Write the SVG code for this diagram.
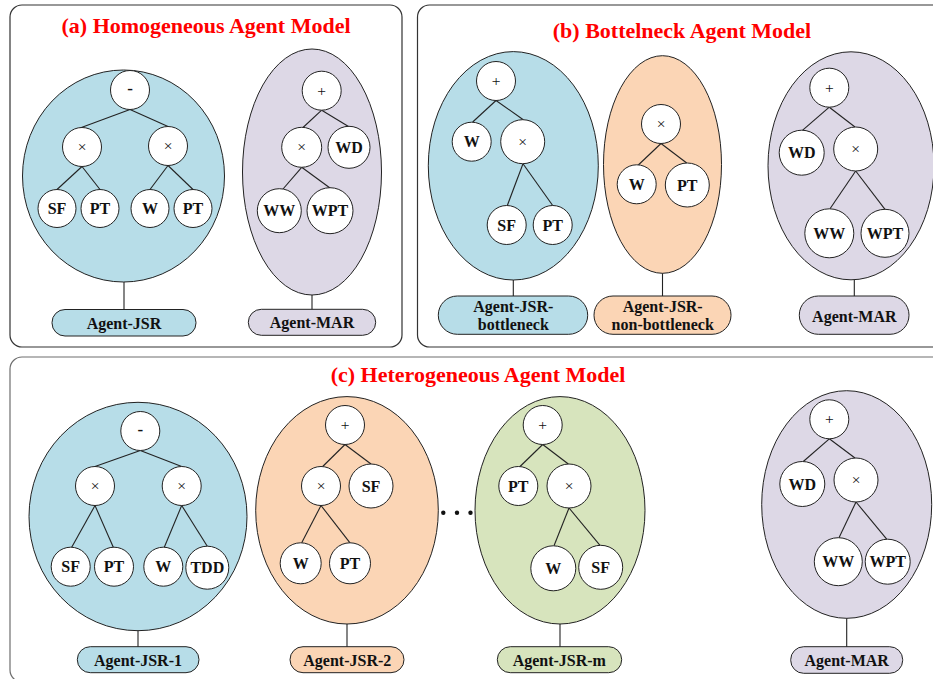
<svg xmlns="http://www.w3.org/2000/svg" width="933" height="679" viewBox="0 0 933 679">
  <style>
    .panel { fill: #ffffff; stroke: #333333; stroke-width: 1.2; }
    .panel-c { stroke: #6e6e6e; }
    .agent { stroke: #222222; stroke-width: 1; }
    .blue { fill: #b7dde8; }
    .orange { fill: #fbd5b5; }
    .green { fill: #d7e4bd; }
    .purple { fill: #ddd8e6; }
    .node circle { fill: #ffffff; stroke: #222222; stroke-width: 1; }
    .edges line { stroke: #222222; stroke-width: 1.1; }
    .title { font-family: "Liberation Serif", "Times New Roman", serif; font-weight: bold; font-size: 22px; fill: #ff0000; text-anchor: middle; }
    .lab { font-family: "Liberation Serif", "Times New Roman", serif; font-weight: bold; font-size: 16px; fill: #111111; text-anchor: middle; }
    .op { font-family: "Liberation Serif", "Times New Roman", serif; font-size: 15.5px; fill: #111111; text-anchor: middle; }
    .minus { font-family: "Liberation Serif", "Times New Roman", serif; font-weight: bold; font-size: 17px; fill: #111111; text-anchor: middle; }
  </style>

  <!-- panels -->
  <g id="panels">
    <rect class="panel" x="10" y="5" width="392" height="342" rx="12"/>
    <rect class="panel" x="417.5" y="5" width="530" height="342" rx="12"/>
    <rect class="panel panel-c" x="10" y="357" width="940" height="325" rx="12"/>
    <text class="title" x="206" y="33">(a) Homogeneous Agent Model</text>
    <text class="title" x="682" y="37.5">(b) Bottelneck Agent Model</text>
    <text class="title" x="478" y="382">(c) Heterogeneous Agent Model</text>
  </g>

  <!-- agent bodies and name tags -->
  <g id="agent-a-jsr">
    <ellipse class="agent blue" cx="123.5" cy="176" rx="101" ry="106"/>
    <rect class="agent blue" x="52" y="309.5" width="144" height="26.5" rx="13"/>
    <text class="lab" x="124" y="328.5">Agent-JSR</text>
  </g>
  <g id="agent-a-mar">
    <ellipse class="agent purple" cx="312" cy="172" rx="69.5" ry="123"/>
    <rect class="agent purple" x="248.3" y="309.3" width="127.4" height="26" rx="13"/>
    <text class="lab" x="312" y="328">Agent-MAR</text>
  </g>
  <g id="agent-b-jsr-bottleneck">
    <ellipse class="agent blue" cx="513.3" cy="165.8" rx="85" ry="114.2"/>
    <rect class="agent blue" x="438.3" y="296" width="149.4" height="38.3" rx="19"/>
    <text class="lab" x="513.3" y="311.5">Agent-JSR-</text>
    <text class="lab" x="513.3" y="330">bottleneck</text>
  </g>
  <g id="agent-b-jsr-non-bottleneck">
    <ellipse class="agent orange" cx="662.5" cy="164.5" rx="59" ry="108.8"/>
    <rect class="agent orange" x="594" y="296" width="137" height="38.3" rx="19"/>
    <text class="lab" x="662.7" y="311.5">Agent-JSR-</text>
    <text class="lab" x="662.7" y="330">non-bottleneck</text>
  </g>
  <g id="agent-b-mar">
    <ellipse class="agent purple" cx="851" cy="165.8" rx="83" ry="114"/>
    <rect class="agent purple" x="799.3" y="296" width="109.7" height="38.3" rx="19"/>
    <text class="lab" x="854.3" y="321.5">Agent-MAR</text>
  </g>
  <g id="agent-c-jsr-1">
    <ellipse class="agent blue" cx="138" cy="516.5" rx="109" ry="114.2"/>
    <rect class="agent blue" x="77.3" y="646.7" width="121.7" height="26" rx="13"/>
    <text class="lab" x="138" y="665.5">Agent-JSR-1</text>
  </g>
  <g id="agent-c-jsr-2">
    <ellipse class="agent orange" cx="347" cy="510.3" rx="91.3" ry="113.7"/>
    <rect class="agent orange" x="290" y="646.7" width="114" height="26" rx="13"/>
    <text class="lab" x="347.3" y="665.5">Agent-JSR-2</text>
  </g>
  <g id="ellipsis">
    <circle cx="443.3" cy="512.7" r="2.2" fill="#111"/>
    <circle cx="457" cy="512.7" r="2.2" fill="#111"/>
    <circle cx="470.5" cy="512.7" r="2.2" fill="#111"/>
  </g>
  <g id="agent-c-jsr-m">
    <ellipse class="agent green" cx="560" cy="510.3" rx="85" ry="113.7"/>
    <rect class="agent green" x="497.3" y="646.7" width="124.4" height="26" rx="13"/>
    <text class="lab" x="559.3" y="665.5">Agent-JSR-m</text>
  </g>
  <g id="agent-c-mar">
    <ellipse class="agent purple" cx="846.7" cy="504.5" rx="85" ry="113.8"/>
    <rect class="agent purple" x="790.7" y="646.7" width="112" height="26.6" rx="13"/>
    <text class="lab" x="846.7" y="665.5">Agent-MAR</text>
  </g>

  <!-- connectors: tree edges and stems to the name tags -->
  <g id="connectors" class="edges">
    <!-- (a) JSR -->
    <line x1="130" y1="109.5" x2="80" y2="128"/>
    <line x1="130" y1="109.5" x2="168" y2="126.5"/>
    <line x1="82" y1="166.5" x2="57" y2="189.5"/>
    <line x1="82" y1="166.5" x2="100" y2="189.5"/>
    <line x1="168" y1="165.5" x2="150" y2="189.5"/>
    <line x1="168" y1="165.5" x2="193" y2="189.5"/>
    <line x1="124" y1="282" x2="124" y2="309.5"/>
    <!-- (a) MAR -->
    <line x1="321.7" y1="110.2" x2="303" y2="127.5"/>
    <line x1="321.7" y1="110.2" x2="348.5" y2="126.5"/>
    <line x1="301.7" y1="167.3" x2="283" y2="189"/>
    <line x1="301.7" y1="167.3" x2="330" y2="188"/>
    <line x1="312" y1="295" x2="312" y2="309.3"/>
    <!-- (b) JSR bottleneck -->
    <line x1="496" y1="100.5" x2="472.7" y2="122"/>
    <line x1="496" y1="100.5" x2="523.3" y2="119.7"/>
    <line x1="523" y1="163.7" x2="507.3" y2="205.5"/>
    <line x1="523" y1="163.7" x2="552.7" y2="205.5"/>
    <line x1="513.3" y1="280" x2="513.3" y2="296"/>
    <!-- (b) JSR non-bottleneck -->
    <line x1="661" y1="143.5" x2="638.3" y2="165"/>
    <line x1="661" y1="143.5" x2="686.7" y2="163"/>
    <line x1="662.5" y1="273.3" x2="662.5" y2="296"/>
    <!-- (b) MAR -->
    <line x1="829.3" y1="107.2" x2="802.7" y2="130.2"/>
    <line x1="829.3" y1="107.2" x2="855" y2="127"/>
    <line x1="855.7" y1="171" x2="830" y2="208.8"/>
    <line x1="855.7" y1="171" x2="885" y2="209.3"/>
    <line x1="854.3" y1="280" x2="854.3" y2="296"/>
    <!-- (c) JSR-1 -->
    <line x1="140.3" y1="450.5" x2="95" y2="466.5"/>
    <line x1="140.3" y1="450.5" x2="181.7" y2="466.5"/>
    <line x1="95" y1="505.5" x2="71.7" y2="547.2"/>
    <line x1="95" y1="505.5" x2="113.3" y2="547.2"/>
    <line x1="181.7" y1="505.5" x2="164.3" y2="547.2"/>
    <line x1="181.7" y1="505.5" x2="207.3" y2="546.2"/>
    <line x1="138" y1="630.7" x2="138" y2="646.7"/>
    <!-- (c) JSR-2 -->
    <line x1="345" y1="444.5" x2="322.7" y2="466.5"/>
    <line x1="345" y1="444.5" x2="371" y2="464"/>
    <line x1="321" y1="505.5" x2="301.7" y2="542.8"/>
    <line x1="321" y1="505.5" x2="350" y2="542.8"/>
    <line x1="347" y1="624" x2="347" y2="646.7"/>
    <!-- (c) JSR-m -->
    <line x1="542.7" y1="444.5" x2="520" y2="466.5"/>
    <line x1="542.7" y1="444.5" x2="568.3" y2="464"/>
    <line x1="569" y1="508" x2="554" y2="545.8"/>
    <line x1="569" y1="508" x2="600" y2="545.3"/>
    <line x1="560" y1="624" x2="560" y2="646.7"/>
    <!-- (c) MAR -->
    <line x1="829.3" y1="438.8" x2="803.3" y2="461.5"/>
    <line x1="829.3" y1="438.8" x2="855" y2="458"/>
    <line x1="856" y1="502" x2="839" y2="537.7"/>
    <line x1="856" y1="502" x2="886.7" y2="539.2"/>
    <line x1="846.7" y1="618.3" x2="846.7" y2="646.7"/>
  </g>

  <!-- (a) JSR tree -->
  <g id="a-jsr-root" class="node"><circle cx="130" cy="90" r="19.5"/><text class="minus" x="130" y="94">-</text></g>
  <g id="a-jsr-mul1" class="node"><circle cx="82" cy="147" r="19.5"/><text class="op" x="82" y="151.8">×</text></g>
  <g id="a-jsr-mul2" class="node"><circle cx="168" cy="146" r="19.5"/><text class="op" x="168" y="150.8">×</text></g>
  <g id="a-jsr-sf" class="node"><circle cx="57" cy="208.5" r="19"/><text class="lab" x="57" y="214">SF</text></g>
  <g id="a-jsr-pt1" class="node"><circle cx="100" cy="208.5" r="19"/><text class="lab" x="100" y="214">PT</text></g>
  <g id="a-jsr-w" class="node"><circle cx="150" cy="208.5" r="19"/><text class="lab" x="150" y="214">W</text></g>
  <g id="a-jsr-pt2" class="node"><circle cx="193" cy="208.5" r="19"/><text class="lab" x="193" y="214">PT</text></g>

  <!-- (a) MAR tree -->
  <g id="a-mar-root" class="node"><circle cx="321.7" cy="90.7" r="19.5"/><text class="op" x="321.7" y="95.5">+</text></g>
  <g id="a-mar-mul" class="node"><circle cx="301.7" cy="147.3" r="20"/><text class="op" x="301.7" y="152.1">×</text></g>
  <g id="a-mar-wd" class="node"><circle cx="349" cy="147.3" r="21"/><text class="lab" x="349" y="152.8">WD</text></g>
  <g id="a-mar-ww" class="node"><circle cx="279.3" cy="210.7" r="22"/><text class="lab" x="279.3" y="216.2">WW</text></g>
  <g id="a-mar-wpt" class="node"><circle cx="330" cy="210.7" r="23"/><text class="lab" x="330" y="216.2">WPT</text></g>

  <!-- (b) JSR bottleneck tree -->
  <g id="b-jsrb-root" class="node"><circle cx="496" cy="81" r="19.5"/><text class="op" x="496" y="85.8">+</text></g>
  <g id="b-jsrb-w" class="node"><circle cx="471.7" cy="141.7" r="19.5"/><text class="lab" x="471.7" y="147.2">W</text></g>
  <g id="b-jsrb-mul" class="node"><circle cx="522.7" cy="141.7" r="22"/><text class="op" x="522.7" y="146.5">×</text></g>
  <g id="b-jsrb-sf" class="node"><circle cx="506.7" cy="225" r="19.5"/><text class="lab" x="506.7" y="230.5">SF</text></g>
  <g id="b-jsrb-pt" class="node"><circle cx="552.7" cy="225" r="19.5"/><text class="lab" x="552.7" y="230.5">PT</text></g>

  <!-- (b) JSR non-bottleneck tree -->
  <g id="b-jsrn-mul" class="node"><circle cx="661" cy="124" r="19.5"/><text class="op" x="661" y="128.8">×</text></g>
  <g id="b-jsrn-w" class="node"><circle cx="636.7" cy="184.3" r="19.5"/><text class="lab" x="636.7" y="189.8">W</text></g>
  <g id="b-jsrn-pt" class="node"><circle cx="687.3" cy="185" r="22"/><text class="lab" x="687.3" y="190.5">PT</text></g>

  <!-- (b) MAR tree -->
  <g id="b-mar-root" class="node"><circle cx="829.3" cy="87.7" r="19.5"/><text class="op" x="829.3" y="92.5">+</text></g>
  <g id="b-mar-wd" class="node"><circle cx="801.7" cy="152.7" r="22.5"/><text class="lab" x="801.7" y="158.2">WD</text></g>
  <g id="b-mar-mul" class="node"><circle cx="855.7" cy="149" r="22"/><text class="op" x="855.7" y="153.8">×</text></g>
  <g id="b-mar-ww" class="node"><circle cx="829.3" cy="233.3" r="24.5"/><text class="lab" x="829.3" y="238.8">WW</text></g>
  <g id="b-mar-wpt" class="node"><circle cx="885" cy="233.3" r="24"/><text class="lab" x="885" y="238.8">WPT</text></g>

  <!-- (c) JSR-1 tree -->
  <g id="c-jsr1-root" class="node"><circle cx="140.3" cy="431" r="19.5"/><text class="minus" x="140.3" y="435">-</text></g>
  <g id="c-jsr1-mul1" class="node"><circle cx="95" cy="486" r="19.5"/><text class="op" x="95" y="490.8">×</text></g>
  <g id="c-jsr1-mul2" class="node"><circle cx="181.7" cy="486" r="19.5"/><text class="op" x="181.7" y="490.8">×</text></g>
  <g id="c-jsr1-sf" class="node"><circle cx="70.7" cy="566.7" r="19.5"/><text class="lab" x="70.7" y="572.2">SF</text></g>
  <g id="c-jsr1-pt" class="node"><circle cx="114" cy="566.7" r="19.5"/><text class="lab" x="114" y="572.2">PT</text></g>
  <g id="c-jsr1-w" class="node"><circle cx="163.3" cy="566.7" r="19.5"/><text class="lab" x="163.3" y="572.2">W</text></g>
  <g id="c-jsr1-tdd" class="node"><circle cx="207.3" cy="567.7" r="21.5"/><text class="lab" x="207.3" y="573.2">TDD</text></g>

  <!-- (c) JSR-2 tree -->
  <g id="c-jsr2-root" class="node"><circle cx="345" cy="425" r="19.5"/><text class="op" x="345" y="429.8">+</text></g>
  <g id="c-jsr2-mul" class="node"><circle cx="321" cy="486" r="19.5"/><text class="op" x="321" y="490.8">×</text></g>
  <g id="c-jsr2-sf" class="node"><circle cx="371" cy="486" r="22"/><text class="lab" x="371" y="491.5">SF</text></g>
  <g id="c-jsr2-w" class="node"><circle cx="300.7" cy="563.3" r="20.5"/><text class="lab" x="300.7" y="568.8">W</text></g>
  <g id="c-jsr2-pt" class="node"><circle cx="350" cy="563.3" r="20.5"/><text class="lab" x="350" y="568.8">PT</text></g>

  <!-- (c) JSR-m tree -->
  <g id="c-jsrm-root" class="node"><circle cx="542.7" cy="425" r="19.5"/><text class="op" x="542.7" y="429.8">+</text></g>
  <g id="c-jsrm-pt" class="node"><circle cx="518.3" cy="486" r="19.5"/><text class="lab" x="518.3" y="491.5">PT</text></g>
  <g id="c-jsrm-mul" class="node"><circle cx="569" cy="486" r="22"/><text class="op" x="569" y="490.8">×</text></g>
  <g id="c-jsrm-w" class="node"><circle cx="553.3" cy="568.3" r="22.5"/><text class="lab" x="553.3" y="573.8">W</text></g>
  <g id="c-jsrm-sf" class="node"><circle cx="600.7" cy="567.3" r="22"/><text class="lab" x="600.7" y="572.8">SF</text></g>

  <!-- (c) MAR tree -->
  <g id="c-mar-root" class="node"><circle cx="829.3" cy="419.3" r="19.5"/><text class="op" x="829.3" y="424.1">+</text></g>
  <g id="c-mar-wd" class="node"><circle cx="802.3" cy="484" r="22.5"/><text class="lab" x="802.3" y="489.5">WD</text></g>
  <g id="c-mar-mul" class="node"><circle cx="856" cy="480" r="22"/><text class="op" x="856" y="484.8">×</text></g>
  <g id="c-mar-ww" class="node"><circle cx="838.3" cy="561.7" r="24"/><text class="lab" x="838.3" y="567.2">WW</text></g>
  <g id="c-mar-wpt" class="node"><circle cx="887.7" cy="561.7" r="22.5"/><text class="lab" x="887.7" y="567.2">WPT</text></g>
</svg>
